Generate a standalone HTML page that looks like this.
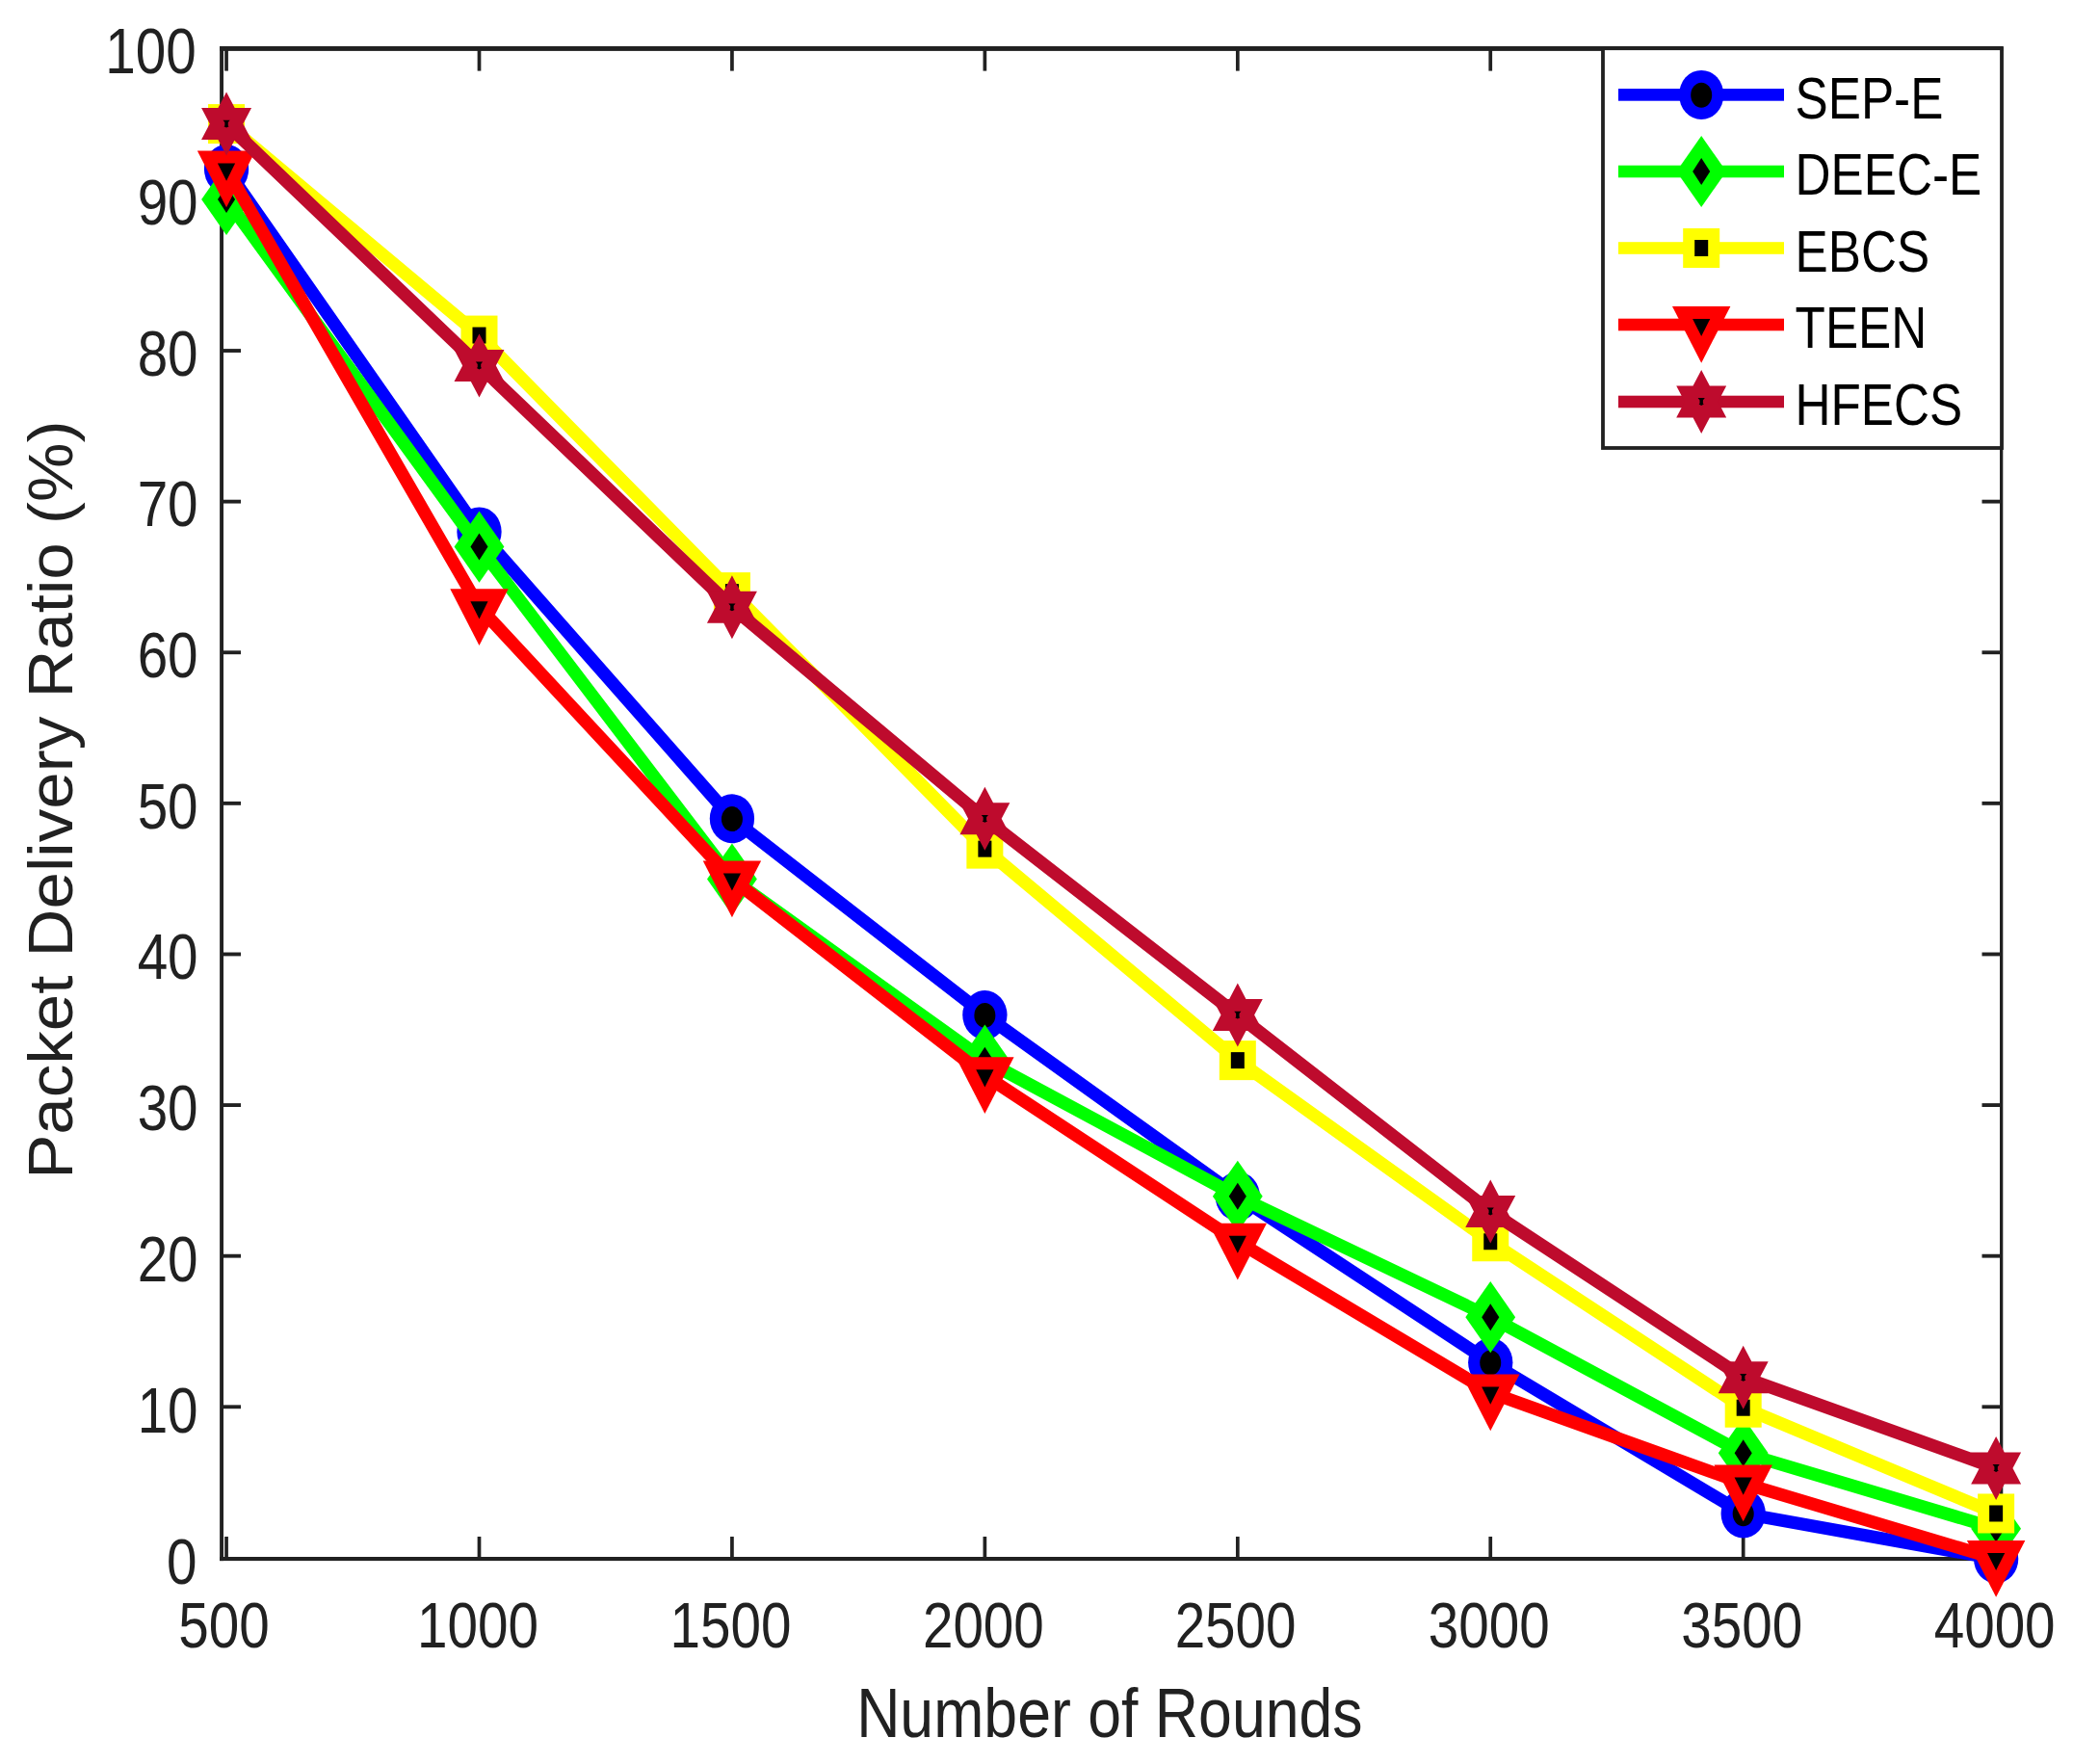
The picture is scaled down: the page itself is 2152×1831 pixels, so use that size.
<!DOCTYPE html>
<html lang="en"><head><meta charset="utf-8"><title>Packet Delivery Ratio vs Number of Rounds</title>
<style>html,body{margin:0;padding:0;background:#fff}body{width:2152px;height:1831px;overflow:hidden}</style></head>
<body>
<svg width="2152" height="1831" viewBox="0 0 2152 1831" style="display:block">
<rect width="2152" height="1831" fill="#fff"/>
<g fill="#212121">
<rect x="228.1" y="48" width="3.9" height="1572.1"/>
<rect x="2076" y="48" width="3.3" height="1572.1"/>
<rect x="228.1" y="48" width="1851.2" height="4.9"/>
<rect x="228.1" y="1616" width="1851.2" height="4.1"/>
<rect x="233.2" y="1595" width="3.7" height="23"/>
<rect x="233.2" y="50" width="3.7" height="23.6"/>
<rect x="495.64" y="1595" width="3.7" height="23"/>
<rect x="495.64" y="50" width="3.7" height="23.6"/>
<rect x="758.08" y="1595" width="3.7" height="23"/>
<rect x="758.08" y="50" width="3.7" height="23.6"/>
<rect x="1020.52" y="1595" width="3.7" height="23"/>
<rect x="1020.52" y="50" width="3.7" height="23.6"/>
<rect x="1282.96" y="1595" width="3.7" height="23"/>
<rect x="1282.96" y="50" width="3.7" height="23.6"/>
<rect x="1545.4" y="1595" width="3.7" height="23"/>
<rect x="1545.4" y="50" width="3.7" height="23.6"/>
<rect x="1807.84" y="1595" width="3.7" height="23"/>
<rect x="1807.84" y="50" width="3.7" height="23.6"/>
<rect x="2070.28" y="1595" width="3.7" height="23"/>
<rect x="2070.28" y="50" width="3.7" height="23.6"/>
<rect x="230" y="1458.37" width="20" height="3.85"/>
<rect x="2057.5" y="1458.37" width="20.5" height="3.85"/>
<rect x="230" y="1301.76" width="20" height="3.85"/>
<rect x="2057.5" y="1301.76" width="20.5" height="3.85"/>
<rect x="230" y="1145.15" width="20" height="3.85"/>
<rect x="2057.5" y="1145.15" width="20.5" height="3.85"/>
<rect x="230" y="988.54" width="20" height="3.85"/>
<rect x="2057.5" y="988.54" width="20.5" height="3.85"/>
<rect x="230" y="831.93" width="20" height="3.85"/>
<rect x="2057.5" y="831.93" width="20.5" height="3.85"/>
<rect x="230" y="675.32" width="20" height="3.85"/>
<rect x="2057.5" y="675.32" width="20.5" height="3.85"/>
<rect x="230" y="518.71" width="20" height="3.85"/>
<rect x="2057.5" y="518.71" width="20.5" height="3.85"/>
<rect x="230" y="362.1" width="20" height="3.85"/>
<rect x="2057.5" y="362.1" width="20.5" height="3.85"/>
<rect x="230" y="205.49" width="20" height="3.85"/>
<rect x="2057.5" y="205.49" width="20.5" height="3.85"/>
</g>
<g font-family="Liberation Sans, Arial, sans-serif" font-size="67" fill="#212121">
<text transform="translate(232.45,1710.4) scale(0.845,1)" text-anchor="middle">500</text>
<text transform="translate(495.99,1710.4) scale(0.845,1)" text-anchor="middle">1000</text>
<text transform="translate(758.43,1710.4) scale(0.845,1)" text-anchor="middle">1500</text>
<text transform="translate(1020.87,1710.4) scale(0.845,1)" text-anchor="middle">2000</text>
<text transform="translate(1282.61,1710.4) scale(0.845,1)" text-anchor="middle">2500</text>
<text transform="translate(1545.75,1710.4) scale(0.845,1)" text-anchor="middle">3000</text>
<text transform="translate(1808.19,1710.4) scale(0.845,1)" text-anchor="middle">3500</text>
<text transform="translate(2070.63,1710.4) scale(0.845,1)" text-anchor="middle">4000</text>
<text transform="translate(204.4,1643.6) scale(0.845,1)" text-anchor="end">0</text>
<text transform="translate(205.6,1486.82) scale(0.845,1)" text-anchor="end">10</text>
<text transform="translate(205.6,1330.04) scale(0.845,1)" text-anchor="end">20</text>
<text transform="translate(205.6,1173.26) scale(0.845,1)" text-anchor="end">30</text>
<text transform="translate(205.6,1016.48) scale(0.845,1)" text-anchor="end">40</text>
<text transform="translate(205.6,859.7) scale(0.845,1)" text-anchor="end">50</text>
<text transform="translate(205.6,702.92) scale(0.845,1)" text-anchor="end">60</text>
<text transform="translate(205.6,546.14) scale(0.845,1)" text-anchor="end">70</text>
<text transform="translate(205.6,389.66) scale(0.845,1)" text-anchor="end">80</text>
<text transform="translate(205.6,232.58) scale(0.845,1)" text-anchor="end">90</text>
<text transform="translate(203.8,76.1) scale(0.845,1)" text-anchor="end">100</text>
</g>
<g font-family="Liberation Sans, Arial, sans-serif" fill="#212121">
<text font-size="72.4" transform="translate(1151.9,1803.1) scale(0.865,1)" text-anchor="middle">Number of Rounds</text>
<text font-size="72.4" transform="translate(75.3,830.2) rotate(-90) scale(0.9547,0.907)" text-anchor="middle">Packet Delivery Ratio (%)</text>
</g>
<polyline points="235.05,175.62 497.49,551.9 759.93,849.78 1022.37,1053.59 1284.81,1241.73 1547.25,1414.19 1809.69,1570.97 2072.13,1618" fill="none" stroke="#0000ff" stroke-width="13.3" stroke-linejoin="round"/>
<ellipse cx="235.05" cy="175.62" rx="23.15" ry="25.5" fill="#0000ff"/><ellipse cx="235.05" cy="175.92" rx="11" ry="13" fill="#000"/>
<ellipse cx="497.49" cy="551.9" rx="23.15" ry="25.5" fill="#0000ff"/><ellipse cx="497.49" cy="552.2" rx="11" ry="13" fill="#000"/>
<ellipse cx="759.93" cy="849.78" rx="23.15" ry="25.5" fill="#0000ff"/><ellipse cx="759.93" cy="850.08" rx="11" ry="13" fill="#000"/>
<ellipse cx="1022.37" cy="1053.59" rx="23.15" ry="25.5" fill="#0000ff"/><ellipse cx="1022.37" cy="1053.89" rx="11" ry="13" fill="#000"/>
<ellipse cx="1284.81" cy="1241.73" rx="23.15" ry="25.5" fill="#0000ff"/><ellipse cx="1284.81" cy="1242.03" rx="11" ry="13" fill="#000"/>
<ellipse cx="1547.25" cy="1414.19" rx="23.15" ry="25.5" fill="#0000ff"/><ellipse cx="1547.25" cy="1414.49" rx="11" ry="13" fill="#000"/>
<ellipse cx="1809.69" cy="1570.97" rx="23.15" ry="25.5" fill="#0000ff"/><ellipse cx="1809.69" cy="1571.27" rx="11" ry="13" fill="#000"/>
<ellipse cx="2072.13" cy="1618" rx="23.15" ry="25.5" fill="#0000ff"/><ellipse cx="2072.13" cy="1618.3" rx="11" ry="13" fill="#000"/>
<polyline points="235.05,206.98 497.49,567.57 759.93,912.49 1022.37,1100.63 1284.81,1241.73 1547.25,1367.15 1809.69,1508.25 2072.13,1586.64" fill="none" stroke="#00ff00" stroke-width="13.3" stroke-linejoin="round"/>
<polygon points="235.05,169.88 260.95,206.98 235.05,244.08 209.15,206.98" fill="#00ff00"/><polygon points="235.05,192.98 244.1,206.98 235.05,220.98 226,206.98" fill="#000"/>
<polygon points="497.49,530.47 523.39,567.57 497.49,604.67 471.59,567.57" fill="#00ff00"/><polygon points="497.49,553.57 506.54,567.57 497.49,581.57 488.44,567.57" fill="#000"/>
<polygon points="759.93,875.39 785.83,912.49 759.93,949.59 734.03,912.49" fill="#00ff00"/><polygon points="759.93,898.49 768.98,912.49 759.93,926.49 750.88,912.49" fill="#000"/>
<polygon points="1022.37,1063.53 1048.27,1100.63 1022.37,1137.73 996.47,1100.63" fill="#00ff00"/><polygon points="1022.37,1086.63 1031.42,1100.63 1022.37,1114.63 1013.32,1100.63" fill="#000"/>
<polygon points="1284.81,1204.63 1310.71,1241.73 1284.81,1278.83 1258.91,1241.73" fill="#00ff00"/><polygon points="1284.81,1227.73 1293.86,1241.73 1284.81,1255.73 1275.76,1241.73" fill="#000"/>
<polygon points="1547.25,1330.05 1573.15,1367.15 1547.25,1404.25 1521.35,1367.15" fill="#00ff00"/><polygon points="1547.25,1353.15 1556.3,1367.15 1547.25,1381.15 1538.2,1367.15" fill="#000"/>
<polygon points="1809.69,1471.15 1835.59,1508.25 1809.69,1545.35 1783.79,1508.25" fill="#00ff00"/><polygon points="1809.69,1494.25 1818.74,1508.25 1809.69,1522.25 1800.64,1508.25" fill="#000"/>
<polygon points="2072.13,1549.54 2098.03,1586.64 2072.13,1623.74 2046.23,1586.64" fill="#00ff00"/><polygon points="2072.13,1572.64 2081.18,1586.64 2072.13,1600.64 2063.08,1586.64" fill="#000"/>
<polyline points="235.05,128.59 497.49,348.08 759.93,614.61 1022.37,881.13 1284.81,1100.63 1547.25,1288.76 1809.69,1461.22 2072.13,1570.97" fill="none" stroke="#ffff00" stroke-width="13.3" stroke-linejoin="round"/>
<rect x="216.05" y="108.09" width="38" height="41" fill="#ffff00"/><rect x="228.05" y="120.09" width="14" height="17" fill="#000"/>
<rect x="478.49" y="327.58" width="38" height="41" fill="#ffff00"/><rect x="490.49" y="339.58" width="14" height="17" fill="#000"/>
<rect x="740.93" y="594.11" width="38" height="41" fill="#ffff00"/><rect x="752.93" y="606.11" width="14" height="17" fill="#000"/>
<rect x="1003.37" y="860.63" width="38" height="41" fill="#ffff00"/><rect x="1015.37" y="872.63" width="14" height="17" fill="#000"/>
<rect x="1265.81" y="1080.13" width="38" height="41" fill="#ffff00"/><rect x="1277.81" y="1092.13" width="14" height="17" fill="#000"/>
<rect x="1528.25" y="1268.26" width="38" height="41" fill="#ffff00"/><rect x="1540.25" y="1280.26" width="14" height="17" fill="#000"/>
<rect x="1790.69" y="1440.72" width="38" height="41" fill="#ffff00"/><rect x="1802.69" y="1452.72" width="14" height="17" fill="#000"/>
<rect x="2053.13" y="1550.47" width="38" height="41" fill="#ffff00"/><rect x="2065.13" y="1562.47" width="14" height="17" fill="#000"/>
<polyline points="235.05,175.62 497.49,630.29 759.93,912.49 1022.37,1116.3 1284.81,1288.76 1547.25,1445.54 1809.69,1539.61 2072.13,1618" fill="none" stroke="#ff0000" stroke-width="13.3" stroke-linejoin="round"/>
<polygon points="204.85,156.52 265.25,156.52 235.05,215.32" fill="#ff0000"/><polygon points="225.95,169.62 244.15,169.62 235.05,187.72" fill="#000"/>
<polygon points="467.29,611.19 527.69,611.19 497.49,669.99" fill="#ff0000"/><polygon points="488.39,624.29 506.59,624.29 497.49,642.39" fill="#000"/>
<polygon points="729.73,893.39 790.13,893.39 759.93,952.19" fill="#ff0000"/><polygon points="750.83,906.49 769.03,906.49 759.93,924.59" fill="#000"/>
<polygon points="992.17,1097.2 1052.57,1097.2 1022.37,1156" fill="#ff0000"/><polygon points="1013.27,1110.3 1031.47,1110.3 1022.37,1128.4" fill="#000"/>
<polygon points="1254.61,1269.66 1315.01,1269.66 1284.81,1328.46" fill="#ff0000"/><polygon points="1275.71,1282.76 1293.91,1282.76 1284.81,1300.86" fill="#000"/>
<polygon points="1517.05,1426.44 1577.45,1426.44 1547.25,1485.24" fill="#ff0000"/><polygon points="1538.15,1439.54 1556.35,1439.54 1547.25,1457.64" fill="#000"/>
<polygon points="1779.49,1520.51 1839.89,1520.51 1809.69,1579.31" fill="#ff0000"/><polygon points="1800.59,1533.61 1818.79,1533.61 1809.69,1551.71" fill="#000"/>
<polygon points="2041.93,1598.9 2102.33,1598.9 2072.13,1657.7" fill="#ff0000"/><polygon points="2063.03,1612 2081.23,1612 2072.13,1630.1" fill="#000"/>
<polyline points="235.05,128.59 497.49,379.44 759.93,630.29 1022.37,849.78 1284.81,1053.59 1547.25,1257.41 1809.69,1429.86 2072.13,1523.93" fill="none" stroke="#BE0B2D" stroke-width="13.3" stroke-linejoin="round"/>
<polygon points="235.05,95.59 243.71,112.09 261.03,112.09 252.37,128.59 261.03,145.09 243.71,145.09 235.05,161.59 226.39,145.09 209.07,145.09 217.73,128.59 209.07,112.09 226.39,112.09" fill="#BE0B2D"/><polygon points="231.45,124.69 238.65,124.69 236.75,127.09 236.75,130.39 237.65,131.19 235.05,132.59 232.45,131.19 233.35,130.39 233.35,127.09" fill="#000"/>
<polygon points="497.49,346.44 506.15,362.94 523.47,362.94 514.81,379.44 523.47,395.94 506.15,395.94 497.49,412.44 488.83,395.94 471.51,395.94 480.17,379.44 471.51,362.94 488.83,362.94" fill="#BE0B2D"/><polygon points="493.89,375.54 501.09,375.54 499.19,377.94 499.19,381.24 500.09,382.04 497.49,383.44 494.89,382.04 495.79,381.24 495.79,377.94" fill="#000"/>
<polygon points="759.93,597.29 768.59,613.79 785.91,613.79 777.25,630.29 785.91,646.79 768.59,646.79 759.93,663.29 751.27,646.79 733.95,646.79 742.61,630.29 733.95,613.79 751.27,613.79" fill="#BE0B2D"/><polygon points="756.33,626.39 763.53,626.39 761.63,628.79 761.63,632.09 762.53,632.89 759.93,634.29 757.33,632.89 758.23,632.09 758.23,628.79" fill="#000"/>
<polygon points="1022.37,816.78 1031.03,833.28 1048.35,833.28 1039.69,849.78 1048.35,866.28 1031.03,866.28 1022.37,882.78 1013.71,866.28 996.39,866.28 1005.05,849.78 996.39,833.28 1013.71,833.28" fill="#BE0B2D"/><polygon points="1018.77,845.88 1025.97,845.88 1024.07,848.28 1024.07,851.58 1024.97,852.38 1022.37,853.78 1019.77,852.38 1020.67,851.58 1020.67,848.28" fill="#000"/>
<polygon points="1284.81,1020.59 1293.47,1037.09 1310.79,1037.09 1302.13,1053.59 1310.79,1070.09 1293.47,1070.09 1284.81,1086.59 1276.15,1070.09 1258.83,1070.09 1267.49,1053.59 1258.83,1037.09 1276.15,1037.09" fill="#BE0B2D"/><polygon points="1281.21,1049.69 1288.41,1049.69 1286.51,1052.09 1286.51,1055.39 1287.41,1056.19 1284.81,1057.59 1282.21,1056.19 1283.11,1055.39 1283.11,1052.09" fill="#000"/>
<polygon points="1547.25,1224.41 1555.91,1240.91 1573.23,1240.91 1564.57,1257.41 1573.23,1273.91 1555.91,1273.91 1547.25,1290.41 1538.59,1273.91 1521.27,1273.91 1529.93,1257.41 1521.27,1240.91 1538.59,1240.91" fill="#BE0B2D"/><polygon points="1543.65,1253.51 1550.85,1253.51 1548.95,1255.91 1548.95,1259.21 1549.85,1260.01 1547.25,1261.41 1544.65,1260.01 1545.55,1259.21 1545.55,1255.91" fill="#000"/>
<polygon points="1809.69,1396.86 1818.35,1413.36 1835.67,1413.36 1827.01,1429.86 1835.67,1446.36 1818.35,1446.36 1809.69,1462.86 1801.03,1446.36 1783.71,1446.36 1792.37,1429.86 1783.71,1413.36 1801.03,1413.36" fill="#BE0B2D"/><polygon points="1806.09,1425.96 1813.29,1425.96 1811.39,1428.36 1811.39,1431.66 1812.29,1432.46 1809.69,1433.86 1807.09,1432.46 1807.99,1431.66 1807.99,1428.36" fill="#000"/>
<polygon points="2072.13,1490.93 2080.79,1507.43 2098.11,1507.43 2089.45,1523.93 2098.11,1540.43 2080.79,1540.43 2072.13,1556.93 2063.47,1540.43 2046.15,1540.43 2054.81,1523.93 2046.15,1507.43 2063.47,1507.43" fill="#BE0B2D"/><polygon points="2068.53,1520.03 2075.73,1520.03 2073.83,1522.43 2073.83,1525.73 2074.73,1526.53 2072.13,1527.93 2069.53,1526.53 2070.43,1525.73 2070.43,1522.43" fill="#000"/>
<rect x="1664" y="50.2" width="414" height="414.8" fill="#fff" stroke="#212121" stroke-width="3.8"/>
<rect x="1680" y="92.1" width="172" height="12.6" fill="#0000ff"/>
<ellipse cx="1766.2" cy="98.4" rx="23.15" ry="25.5" fill="#0000ff"/><ellipse cx="1766.2" cy="98.7" rx="11" ry="13" fill="#000"/>
<text font-family="Liberation Sans, Arial, sans-serif" font-size="60.2" fill="#000" transform="translate(1863.6,122.6) scale(0.851,1)">SEP-E</text>
<rect x="1680" y="171.7" width="172" height="12.6" fill="#00ff00"/>
<polygon points="1766.2,140.9 1792.1,178 1766.2,215.1 1740.3,178" fill="#00ff00"/><polygon points="1766.2,164 1775.25,178 1766.2,192 1757.15,178" fill="#000"/>
<text font-family="Liberation Sans, Arial, sans-serif" font-size="60.2" fill="#000" transform="translate(1863.6,201.8) scale(0.851,1)">DEEC-E</text>
<rect x="1680" y="251.2" width="172" height="12.6" fill="#ffff00"/>
<rect x="1747.2" y="237" width="38" height="41" fill="#ffff00"/><rect x="1759.2" y="249" width="14" height="17" fill="#000"/>
<text font-family="Liberation Sans, Arial, sans-serif" font-size="60.2" fill="#000" transform="translate(1863.6,281.7) scale(0.851,1)">EBCS</text>
<rect x="1680" y="330.7" width="172" height="12.6" fill="#ff0000"/>
<polygon points="1736,317.9 1796.4,317.9 1766.2,376.7" fill="#ff0000"/><polygon points="1757.1,331 1775.3,331 1766.2,349.1" fill="#000"/>
<text font-family="Liberation Sans, Arial, sans-serif" font-size="60.2" fill="#000" transform="translate(1863.6,360.8) scale(0.851,1)">TEEN</text>
<rect x="1680" y="410.7" width="172" height="12.6" fill="#BE0B2D"/>
<polygon points="1766.2,384 1774.86,400.5 1792.18,400.5 1783.52,417 1792.18,433.5 1774.86,433.5 1766.2,450 1757.54,433.5 1740.22,433.5 1748.88,417 1740.22,400.5 1757.54,400.5" fill="#BE0B2D"/><polygon points="1762.6,413.1 1769.8,413.1 1767.9,415.5 1767.9,418.8 1768.8,419.6 1766.2,421 1763.6,419.6 1764.5,418.8 1764.5,415.5" fill="#000"/>
<text font-family="Liberation Sans, Arial, sans-serif" font-size="60.2" fill="#000" transform="translate(1863.6,441) scale(0.851,1)">HFECS</text>
</svg>
</body></html>
